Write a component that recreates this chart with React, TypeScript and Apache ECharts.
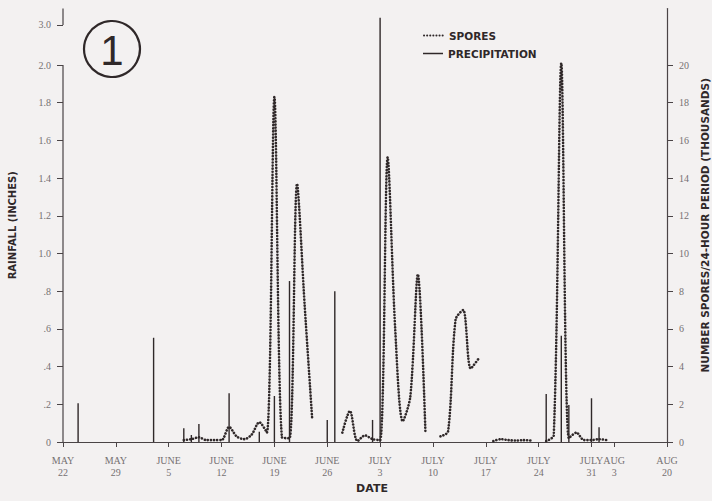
import React, { useEffect, useRef } from "react";
import * as echarts from "echarts";

// ---- data ----
const xTickDays = [0, 7, 14, 21, 28, 35, 42, 49, 56, 63, 70, 73, 80];
const xTickLabels = [
  "MAY\n22", "MAY\n29", "JUNE\n5", "JUNE\n12", "JUNE\n19", "JUNE\n26",
  "JULY\n3", "JULY\n10", "JULY\n17", "JULY\n24", "JULY\n31", "AUG\n3", "AUG\n20",
];
const rainTickValues = [0, 0.2, 0.4, 0.6, 0.8, 1.0, 1.2, 1.4, 1.6, 1.8, 2.0, 3.0];
const rainTickLabels = ["0", ".2", ".4", ".6", ".8", "1.0", "1.2", "1.4", "1.6", "1.8", "2.0", "3.0"];
const sporeTickValues = [0, 2, 4, 6, 8, 10, 12, 14, 16, 18, 20];

// precipitation (inches), day offset from May 22
const precipDays = [2, 12, 16, 17, 18, 22, 26, 28, 30, 35, 36, 41, 42, 64, 66, 67, 70, 71];
const precipInches = [0.205, 0.553, 0.073, 0.037, 0.095, 0.258, 0.055, 0.244, 0.854, 0.117, 0.8, 0.117, 3.18, 0.255, 0.564, 0.196, 0.232, 0.078];

// spores per 24 h (thousands), daily from day 16 (June 7)
const sporeFirstDay = 16;
const sporeThousands: (number | null)[] = [
  0.1, 0.15, 0.25, 0.1, 0.1, 0.1, 0.8, 0.3, 0.15, 0.4, 1.05, 0.5, 18.3, 0.25, 0.2, 13.7, 7.3, 1.25,
  null, null, null,
  0.5, 1.65, 0.05, 0.35, 0.15, 0.1, 15.1, 6.0, 1.1, 2.4, 8.9, 0.55,
  null,
  0.3, 0.55, 6.5, 7.0, 3.9, 4.4,
  null,
  0.05, 0.15, 0.1, 0.08, 0.1, 0.08,
  null,
  0.05, 0.35, 20.1, 0.2, 0.5, 0.1, 0.1, 0.15, 0.1,
];

// broken rainfall axis: above 2.0 in, the scale is compressed
const RAIN_BREAK = 2.0;
const RAIN_ABOVE_SCALE = 0.2125;
const RAIN_MAX = 2.3;
const SPORE_MAX = 23;

const rainToAxis = (v: number) => (v <= RAIN_BREAK ? v : RAIN_BREAK + (v - RAIN_BREAK) * RAIN_ABOVE_SCALE);

const INK = "#2f2829";
const AXIS = "#4a4446";
const GRAY = "#757071";
const BOLD_FONT = '"DejaVu Sans", sans-serif';
const SERIF = '"Liberation Serif", "DejaVu Serif", serif';

export default function App() {
  const ref = useRef<HTMLDivElement>(null);
  useEffect(() => {
    if (!ref.current) return;
    const chart = echarts.init(ref.current, null, { renderer: "svg" });
    const rainAxisTicks = rainTickValues.map(rainToAxis);
    const option: any = {
      animation: false,
      backgroundColor: "#f3f1f1",
      grid: { left: 63, right: 45, top: 8.5, bottom: 59, containLabel: false, outerBoundsMode: "none" },
      legend: [
        {
          data: [{ name: "SPORES", itemStyle: { opacity: 0 } }],
          left: 418, top: 25, itemWidth: 20, itemHeight: 6, itemGap: 6,
          textStyle: { fontFamily: BOLD_FONT, fontWeight: "bold", fontSize: 10.5, color: INK },
        },
        {
          data: [{ name: "PRECIPITATION", icon: "rect" }],
          left: 418, top: 43, itemWidth: 20, itemHeight: 1.5, itemGap: 6,
          textStyle: { fontFamily: BOLD_FONT, fontWeight: "bold", fontSize: 10.5, color: INK },
        },
      ],
      xAxis: {
        type: "value", min: 0, max: 80,
        name: "DATE", nameLocation: "middle", nameGap: 38,
        nameTextStyle: { fontFamily: BOLD_FONT, fontWeight: "bold", fontSize: 11, color: INK, padding: [0, 0, 0, 14] },
        axisLine: { lineStyle: { color: AXIS, width: 1.2 } },
        axisTick: { customValues: xTickDays, length: 5, lineStyle: { color: AXIS } },
        axisLabel: {
          customValues: xTickDays,
          formatter: (v: number) => {
            const i = xTickDays.findIndex((d) => Math.abs(d - v) < 1e-6);
            return i >= 0 ? xTickLabels[i] : "";
          },
          fontFamily: SERIF, fontSize: 10, color: GRAY, lineHeight: 12, margin: 12,
        },
        splitLine: { show: false },
      },
      yAxis: [
        {
          type: "value", min: 0, max: RAIN_MAX, position: "left",
          name: "RAINFALL (INCHES)", nameLocation: "middle", nameGap: 46, nameRotate: 90,
          nameTextStyle: { fontFamily: BOLD_FONT, fontWeight: "bold", fontSize: 10, color: INK },
          axisLine: { show: false },
          axisTick: { customValues: rainAxisTicks, length: 6, lineStyle: { color: AXIS } },
          axisLabel: {
            customValues: rainAxisTicks,
            formatter: (v: number) => {
              const i = rainAxisTicks.findIndex((d) => Math.abs(d - v) < 1e-6);
              return i >= 0 ? rainTickLabels[i] : "";
            },
            fontFamily: SERIF, fontSize: 10, color: GRAY, margin: 12,
          },
          splitLine: { show: false },
        },
        {
          type: "value", min: 0, max: SPORE_MAX, position: "right",
          name: "NUMBER SPORES/24-HOUR PERIOD (THOUSANDS)", nameLocation: "middle", nameGap: 31, nameRotate: 90,
          nameTextStyle: { fontFamily: BOLD_FONT, fontWeight: "bold", fontSize: 10.5, color: INK },
          axisLine: { show: true, lineStyle: { color: AXIS, width: 1.2 } },
          axisTick: { customValues: sporeTickValues, length: 6, lineStyle: { color: AXIS } },
          axisLabel: {
            customValues: sporeTickValues,
            fontFamily: SERIF, fontSize: 10, color: GRAY, margin: 12,
          },
          splitLine: { show: false },
        },
      ],
      graphic: [
        { type: "circle", shape: { cx: 112, cy: 49, r: 28 }, style: { fill: "none", stroke: INK, lineWidth: 2.2 } },
        {
          type: "text", x: 112, y: 50,
          style: { text: "1", font: '42px "Liberation Sans", sans-serif', fill: INK, textAlign: "center", textVerticalAlign: "middle" },
        },
      ],
      series: [
        {
          name: "rainfall axis", type: "line", yAxisIndex: 0, silent: true, clip: false,
          symbol: "none", connectNulls: false,
          lineStyle: { color: AXIS, width: 1.2 },
          data: [[0, 0], [0, RAIN_BREAK], [0, null], [0, rainToAxis(3.0)], [0, RAIN_MAX]],
          z: 1,
        },
        {
          name: "PRECIPITATION", type: "bar", yAxisIndex: 0, barWidth: 1.4,
          itemStyle: { color: INK },
          data: precipDays.map((d, i) => [d, rainToAxis(precipInches[i])]),
          z: 3,
        },
        {
          name: "SPORES", type: "line", yAxisIndex: 1, symbol: "none", smooth: 0.3, connectNulls: false,
          lineStyle: { color: INK, width: 2.6, type: [0.1, 3.0], cap: "round" },
          itemStyle: { color: INK },
          data: sporeThousands.map((v, i) => [sporeFirstDay + i, v]),
          z: 4,
        },
      ],
    };
    chart.setOption(option);
    return () => chart.dispose();
  }, []);
  return <div ref={ref} style={{ position: "absolute", left: 0, top: 0, width: 712, height: 501 }} />;
}
